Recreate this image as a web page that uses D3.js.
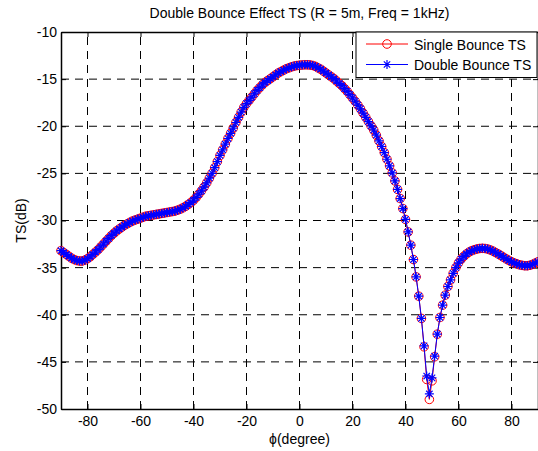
<!DOCTYPE html>
<html>
<head>
<meta charset="utf-8">
<script src="https://cdn.jsdelivr.net/npm/d3@7/dist/d3.min.js"></script>
<style>
    body { margin: 0; background: #fff; }
    svg { display: block; font-family: "Liberation Sans", Arial, Helvetica, sans-serif; }
    .grid line { stroke: #000; stroke-width: 1; stroke-dasharray: 8,6; }
    .axis text { font-size: 14px; fill: #000; }
    .axis line, .axis path { stroke: #000; }
</style>
</head>
<body>
<div id="chart"></div>
<script>
    // angles sampled every degree, -90 .. 90
    var angles = d3.range(-90, 91, 1);

    var singleTS = [
        -33.2, -33.4, -33.6, -33.8, -34.0, -34.15, -34.25, -34.3, -34.3, -34.2,
        -34.05, -33.85, -33.6, -33.35, -33.1, -32.8, -32.5, -32.2, -31.9, -31.6,
        -31.35, -31.1, -30.9, -30.7, -30.5, -30.35, -30.2, -30.05, -29.95, -29.85,
        -29.75, -29.65, -29.55, -29.5, -29.45, -29.4, -29.35, -29.3, -29.25, -29.2,
        -29.15, -29.1, -29.05, -29.0, -28.9, -28.8, -28.65, -28.5, -28.3, -28.1,
        -27.85, -27.55, -27.2, -26.85, -26.45, -26.0, -25.5, -25.0, -24.4, -23.75,
        -23.1, -22.5, -21.9, -21.3, -20.75, -20.2, -19.6, -19.05, -18.5, -18.0,
        -17.6, -17.25, -16.9, -16.55, -16.2, -15.9, -15.6, -15.35, -15.15, -14.95,
        -14.75, -14.55, -14.35, -14.2, -14.05, -13.9, -13.8, -13.7, -13.62, -13.56,
        -13.52, -13.5, -13.48, -13.48, -13.5, -13.55, -13.65, -13.8, -13.95, -14.15,
        -14.35, -14.55, -14.75, -14.95, -15.2, -15.45, -15.7, -16.0, -16.3, -16.65,
        -17.0, -17.35, -17.75, -18.15, -18.6, -19.05, -19.5, -19.95, -20.4, -20.95,
        -21.55, -22.15, -22.8, -23.5, -24.2, -24.95, -25.8, -26.7, -27.67, -28.73,
        -29.89, -31.21, -32.62, -34.14, -35.98, -38.03, -40.39, -43.4, -46.86, -48.98,
        -47.01, -44.46, -42.06, -40.29, -38.98, -37.92, -37.0, -36.3, -35.6, -35.0,
        -34.5, -34.1, -33.8, -33.55, -33.35, -33.2, -33.1, -33.02, -32.97, -32.95,
        -32.97, -33.03, -33.12, -33.25, -33.4, -33.55, -33.72, -33.9, -34.07, -34.23,
        -34.38, -34.5, -34.6, -34.7, -34.76, -34.8, -34.8, -34.75, -34.65, -34.52, -34.38
    ];

    var doubleTS = [
        -33.2, -33.4, -33.6, -33.8, -34.0, -34.15, -34.25, -34.3, -34.3, -34.2,
        -34.05, -33.85, -33.6, -33.35, -33.1, -32.8, -32.5, -32.2, -31.9, -31.6,
        -31.35, -31.1, -30.9, -30.7, -30.5, -30.35, -30.2, -30.05, -29.95, -29.85,
        -29.75, -29.65, -29.55, -29.5, -29.45, -29.4, -29.35, -29.3, -29.25, -29.2,
        -29.15, -29.1, -29.05, -29.0, -28.9, -28.8, -28.65, -28.5, -28.3, -28.1,
        -27.85, -27.55, -27.2, -26.85, -26.45, -26.0, -25.5, -25.0, -24.4, -23.75,
        -23.1, -22.5, -21.9, -21.3, -20.75, -20.2, -19.6, -19.05, -18.5, -18.0,
        -17.6, -17.25, -16.9, -16.55, -16.2, -15.9, -15.6, -15.35, -15.15, -14.95,
        -14.75, -14.55, -14.35, -14.2, -14.05, -13.9, -13.8, -13.7, -13.62, -13.56,
        -13.52, -13.5, -13.48, -13.48, -13.5, -13.55, -13.65, -13.8, -13.95, -14.15,
        -14.35, -14.55, -14.75, -14.95, -15.2, -15.45, -15.7, -16.0, -16.3, -16.65,
        -17.0, -17.35, -17.75, -18.15, -18.6, -19.05, -19.5, -19.95, -20.4, -20.95,
        -21.55, -22.15, -22.8, -23.5, -24.2, -24.95, -25.8, -26.7, -27.67, -28.73,
        -29.89, -31.21, -32.62, -34.14, -35.98, -38.03, -40.39, -43.3, -46.5, -48.4,
        -46.7, -44.4, -42.06, -40.29, -38.98, -37.92, -37.0, -36.3, -35.6, -35.0,
        -34.5, -34.1, -33.8, -33.55, -33.35, -33.2, -33.1, -33.02, -32.97, -32.95,
        -32.97, -33.03, -33.12, -33.25, -33.4, -33.55, -33.72, -33.9, -34.07, -34.23,
        -34.38, -34.5, -34.6, -34.7, -34.76, -34.8, -34.8, -34.75, -34.65, -34.52, -34.38
    ];

    var xTicks = [-80, -60, -40, -20, 0, 20, 40, 60, 80];
    var yTicks = [-50, -45, -40, -35, -30, -25, -20, -15, -10];
    var seriesNames = ['Single Bounce TS', 'Double Bounce TS'];

    var width = 538, height = 451;
    var plot = {left: 61, right: 538, top: 32, bottom: 409};

    var svg = d3.select('#chart').append('svg')
        .attr('width', width)
        .attr('height', height);

    svg.append('rect').attr('width', width).attr('height', height).attr('fill', '#fff');

    var x = d3.scaleLinear().domain([-90, 90]).range([plot.left, plot.right]);
    var y = d3.scaleLinear().domain([-50, -10]).range([plot.bottom, plot.top]);

    // plain hyphen minus, as matlab prints it
    var fmt = function (d) { return String(d); };

    // dashed grid
    var grid = svg.append('g').attr('class', 'grid');
    grid.selectAll('line.v')
        .data(xTicks)
        .enter().append('line')
        .attr('class', 'v')
        .attr('x1', function (d) { return x(d); })
        .attr('x2', function (d) { return x(d); })
        .attr('y1', plot.bottom)
        .attr('y2', plot.top);
    grid.selectAll('line.h')
        .data(yTicks.slice(1, -1))
        .enter().append('line')
        .attr('class', 'h')
        .attr('x1', plot.left)
        .attr('x2', plot.right)
        .attr('y1', function (d) { return y(d); })
        .attr('y2', function (d) { return y(d); });

    // axes, ticks pointing inwards like matlab
    svg.append('g')
        .attr('class', 'axis')
        .attr('transform', 'translate(0,' + plot.bottom + ')')
        .call(d3.axisBottom(x).tickValues(xTicks).tickFormat(fmt).tickSizeInner(-5).tickSizeOuter(0).tickPadding(7));
    svg.append('g')
        .attr('class', 'axis')
        .attr('transform', 'translate(' + plot.left + ',0)')
        .call(d3.axisLeft(y).tickValues(yTicks).tickFormat(fmt).tickSizeInner(-5).tickSizeOuter(0).tickPadding(4));
    svg.append('g')
        .attr('class', 'axis')
        .attr('transform', 'translate(0,' + plot.top + ')')
        .call(d3.axisTop(x).tickValues(xTicks).tickSizeInner(-5).tickSizeOuter(0).tickFormat(''));
    svg.append('g')
        .attr('class', 'axis')
        .attr('transform', 'translate(' + plot.right + ',0)')
        .call(d3.axisRight(y).tickValues(yTicks).tickSizeInner(-5).tickSizeOuter(0).tickFormat(''));
    svg.selectAll('.axis path.domain').attr('stroke-width', 1.5);

    var line = d3.line()
        .x(function (d) { return x(d[0]); })
        .y(function (d) { return y(d[1]); });

    var singleData = angles.map(function (a, i) { return [a, singleTS[i]]; });
    var doubleData = angles.map(function (a, i) { return [a, doubleTS[i]]; });

    var starPath = 'M0,-4.5V4.5M-4.5,0H4.5M-3.2,-3.2L3.2,3.2M-3.2,3.2L3.2,-3.2';

    // single bounce: red line with circles
    svg.append('path')
        .datum(singleData)
        .attr('fill', 'none')
        .attr('stroke', '#ff0000')
        .attr('stroke-width', 1)
        .attr('d', line);
    svg.append('g').selectAll('circle')
        .data(singleData)
        .enter().append('circle')
        .attr('cx', function (d) { return x(d[0]); })
        .attr('cy', function (d) { return y(d[1]); })
        .attr('r', 4.3)
        .attr('fill', 'none')
        .attr('stroke', '#ff0000')
        .attr('stroke-width', 1);

    // double bounce: blue line with stars
    svg.append('path')
        .datum(doubleData)
        .attr('fill', 'none')
        .attr('stroke', '#0000ff')
        .attr('stroke-width', 1)
        .attr('d', line);
    svg.append('g').selectAll('path')
        .data(doubleData)
        .enter().append('path')
        .attr('transform', function (d) { return 'translate(' + x(d[0]) + ',' + y(d[1]) + ')'; })
        .attr('d', starPath)
        .attr('fill', 'none')
        .attr('stroke', '#0000ff')
        .attr('stroke-width', 1.2);

    // legend
    var legend = svg.append('g').attr('transform', 'translate(356,32)');
    legend.append('rect')
        .attr('width', 181)
        .attr('height', 45.5)
        .attr('fill', '#fff')
        .attr('stroke', '#000')
        .attr('stroke-width', 1);
    var colors = ['#ff0000', '#0000ff'];
    seriesNames.forEach(function (name, i) {
        var ly = 12 + i * 20.5;
        legend.append('line')
            .attr('x1', 10).attr('x2', 52)
            .attr('y1', ly).attr('y2', ly)
            .attr('stroke', colors[i]);
        if (i === 0) {
            legend.append('circle')
                .attr('cx', 31).attr('cy', ly).attr('r', 4.3)
                .attr('fill', 'none').attr('stroke', colors[i]);
        } else {
            legend.append('path')
                .attr('transform', 'translate(31,' + ly + ')')
                .attr('d', starPath)
                .attr('fill', 'none').attr('stroke', colors[i]).attr('stroke-width', 1.2);
        }
        legend.append('text')
            .attr('x', 58)
            .attr('y', ly + 5.5)
            .attr('font-size', 14)
            .text(name);
    });

    // title and axis labels
    svg.append('text')
        .attr('x', 299.5)
        .attr('y', 18)
        .attr('text-anchor', 'middle')
        .attr('font-size', 14)
        .text('Double Bounce Effect TS (R = 5m, Freq = 1kHz)');
    svg.append('text')
        .attr('x', 299.5)
        .attr('y', 443.5)
        .attr('text-anchor', 'middle')
        .attr('font-size', 14)
        .text('\u03d5(degree)');
    svg.append('text')
        .attr('transform', 'translate(26,' + ((plot.top + plot.bottom) / 2) + ') rotate(-90)')
        .attr('text-anchor', 'middle')
        .attr('font-size', 14)
        .text('TS(dB)');
</script>
</body>
</html>
